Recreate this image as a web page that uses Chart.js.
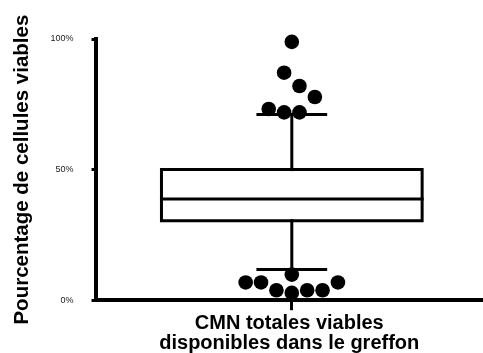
<!DOCTYPE html>
<html>
<head>
<meta charset="utf-8">
<script src="https://cdn.jsdelivr.net/npm/chart.js@4"></script>
<style>
  html, body { margin: 0; padding: 0; background: #fff; }
  #wrap { width: 483px; height: 353px; position: relative; }
</style>
</head>
<body>
<div id="wrap"><canvas id="chart"></canvas></div>
<script>
'use strict';

// ── Data ─────────────────────────────────────────────
const category    = 'CMN totales viables disponibles dans le greffon';
const xTitleLines = ['CMN totales viables', 'disponibles dans le greffon'];
const yTitle      = 'Pourcentage de cellules viables';
const yTicks      = [0, 50, 100];

// box summary (%)
const whiskerLow  = 11.8;
const q1          = 30.4;
const median      = 38.7;
const q3          = 50;
const whiskerHigh = 71.1;

// outliers (%) and their column in the swarm (in half-dot steps)
const outlierValues = [98.9, 87.1, 82.0, 77.8, 73.2, 71.9, 71.9,
                       9.8, 6.8, 6.8, 3.8, 2.8, 3.8, 3.8, 6.8];
const outlierSlots  = [0, -1, 1, 3, -3, -1, 1,
                       0, -6, -4, -2, 0, 2, 4, 6];

// ── Geometry in x-scale units (box half-width = 1) ───
const BOX_HALF  = 1;
const CAP_HALF  = 0.26;
const SLOT_STEP = 0.059;

const FONT = "'Liberation Sans', Arial, sans-serif";

function seg(x0, y0, x1, y1) { return [{ x: x0, y: y0 }, { x: x1, y: y1 }]; }

// plain black line drawn through the scales
function lineSet(data) {
  return {
    type: 'scatter',
    data,
    showLine: true,
    borderColor: '#000',
    borderWidth: 3,
    borderJoinStyle: 'miter',
    borderCapStyle: 'square',
    pointRadius: 0,
    tension: 0,
    clip: false,
    order: 2,
  };
}

const boxOutline = [
  { x: -BOX_HALF, y: q1 }, { x: BOX_HALF, y: q1 },
  { x: BOX_HALF, y: q3 }, { x: -BOX_HALF, y: q3 },
  { x: -BOX_HALF, y: q1 },
];

const points = outlierValues.map((v, i) => ({ x: outlierSlots[i] * SLOT_STEP, y: v }));

new Chart(document.getElementById('chart'), {
  type: 'scatter',
  data: {
    datasets: [
      {
        label: category,
        data: points,
        pointRadius: 7.3,
        pointBackgroundColor: '#000',
        pointBorderWidth: 0,
        clip: false,
        order: 0,
      },
      lineSet(boxOutline),
      lineSet(seg(-BOX_HALF, median, BOX_HALF, median)),
      lineSet(seg(0, q3, 0, whiskerHigh)),
      lineSet(seg(0, q1, 0, whiskerLow)),
      lineSet(seg(-CAP_HALF, whiskerHigh, CAP_HALF, whiskerHigh)),
      lineSet(seg(-CAP_HALF, whiskerLow, CAP_HALF, whiskerLow)),
    ],
  },
  options: {
    responsive: true,
    maintainAspectRatio: false,
    animation: false,
    layout: { autoPadding: false, padding: { top: 39, right: 0, bottom: 0, left: 0 } },
    plugins: {
      legend: { display: false },
      tooltip: { enabled: false },
    },
    scales: {
      x: {
        type: 'linear',
        min: -1.506,
        max: 1.467,
        afterBuildTicks: s => { s.ticks = [{ value: 0 }]; },
        grid: {
          display: true,
          drawOnChartArea: false,
          drawTicks: true,
          tickLength: 10,
          tickWidth: 3,
          tickColor: '#000',
        },
        border: { display: true, color: '#000', width: 4 },
        ticks: { display: false },
        title: {
          display: true,
          text: xTitleLines,
          color: '#000',
          font: { family: FONT, size: 20, weight: 'bold', lineHeight: 1.02 },
          padding: { top: 3, bottom: -1 },
        },
      },
      y: {
        min: 0,
        max: 100,
        afterBuildTicks: s => { s.ticks = yTicks.map(v => ({ value: v })); },
        grid: {
          display: true,
          drawOnChartArea: false,
          drawTicks: true,
          tickLength: 4,
          tickWidth: 3,
          tickColor: '#000',
        },
        border: { display: true, color: '#000', width: 4 },
        ticks: {
          color: '#222',
          padding: 18,
          font: { family: FONT, size: 9 },
          callback: v => v + '%',
        },
        title: {
          display: true,
          text: yTitle,
          color: '#000',
          font: { family: FONT, size: 20.5, weight: 'bold', lineHeight: 1 },
          padding: { top: 12, bottom: 0 },
        },
      },
    },
  },
});
</script>
</body>
</html>
